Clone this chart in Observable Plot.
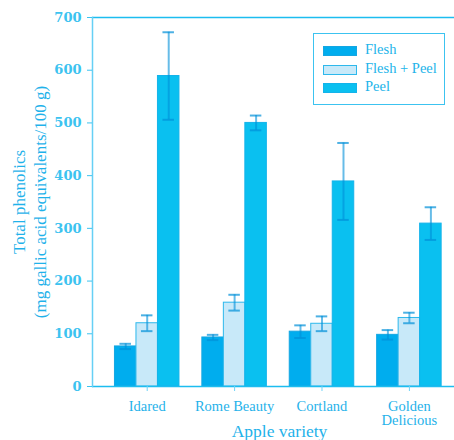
<!DOCTYPE html>
<html><head><meta charset="utf-8">
<script src="https://cdn.jsdelivr.net/npm/d3@7"></script>
<script src="https://cdn.jsdelivr.net/npm/@observablehq/plot@0.6"></script>
<style>
body{margin:0;background:#fff;}
#wrap{position:relative;width:454px;height:440px;overflow:hidden;}
#legend{position:absolute;left:313px;top:33px;width:132px;height:72px;border:1.5px solid #3CC3F0;box-sizing:border-box;font-family:"Liberation Serif",serif;font-size:14.5px;color:#22B4EA;}
.row{position:absolute;left:9px;height:10px;}
.sw{position:absolute;left:0;top:0;width:34px;height:10px;box-sizing:border-box;border:1px solid #1FA9E4;}
.lb{position:absolute;left:42px;top:-6px;white-space:nowrap;line-height:18px;}
</style></head><body><div id="wrap"></div>
<script>
const varieties = ["Idared", "Rome Beauty", "Cortland", "Golden\nDelicious"];
const types = ["Flesh", "Flesh + Peel", "Peel"];
const flesh = [76, 93, 104, 98];
const fleshErr = [5, 5, 12, 9];
const fleshPeel = [120, 159, 119, 130];
const fleshPeelErr = [15, 15, 14, 10];
const peel = [589, 500, 389, 309];
const peelErr = [83, 14, 73, 31];
const yTicks = [0, 100, 200, 300, 400, 500, 600, 700];
const colors = ["#00ADEE", "#C8E9F9", "#0AC0F0"];
const strokes = ["#14A6E2", "#2DB8EC", "#14B3EA"];

const series = [flesh, fleshPeel, peel];
const errs = [fleshErr, fleshPeelErr, peelErr];
const BW = 21.5;
const txt = "#1FB2EA";

const marks = [];
types.forEach((t, j) => {
  const rows = varieties.map((v, i) => ({variety: v, type: t, value: series[j][i], err: errs[j][i]}));
  const dx = (j - 1) * BW;
  marks.push(Plot.barY(rows, {x: "variety", y: "value", fill: colors[j], stroke: strokes[j], strokeWidth: 1, dx}));
  marks.push(Plot.ruleX(rows, {x: "variety", y1: d => d.value - d.err, y2: d => d.value + d.err, dx, stroke: "#0090D8", strokeOpacity: 0.6, strokeWidth: 2}));
  marks.push(Plot.tickY(rows, {x: "variety", y: d => d.value - d.err, dx, insetLeft: 5, insetRight: 5, stroke: "#0090D8", strokeOpacity: 0.7, strokeWidth: 2}));
  marks.push(Plot.tickY(rows, {x: "variety", y: d => d.value + d.err, dx, insetLeft: 5, insetRight: 5, stroke: "#0090D8", strokeOpacity: 0.7, strokeWidth: 2}));
});

const chart = Plot.plot({
  width: 454,
  height: 440,
  marginLeft: 92,
  marginRight: 0,
  marginTop: 17,
  marginBottom: 54,
  style: {fontFamily: "'Liberation Serif', serif", color: txt, background: "#fff"},
  x: {type: "band", domain: varieties, range: [92, 463.6], paddingInner: 0.754, paddingOuter: 0.503, round: false},
  y: {domain: [0, 700]},
  marks: [
    ...marks,
    Plot.ruleY([0, 700], {stroke: "#1CBDF0", strokeWidth: 1.5}),
    Plot.frame({anchor: "left", stroke: "#66D0F5", strokeWidth: 1.5}),
    Plot.axisY({ticks: yTicks, tickSize: 5, tickPadding: 6, label: null, fontSize: 13, fontWeight: "bold", fontFamily: "'DejaVu Serif', serif", color: "#3CC3F0", fill: "#3CC3F0"}),
    Plot.axisX({tickSize: 5, tickPadding: 9, label: null, fontSize: 14.5, lineHeight: 1.0, color: "#6FD3F7", fill: txt}),
    Plot.text(["Apple variety"], {frameAnchor: "bottom", dy: 50, dx: 6, fontSize: 17.5, lineAnchor: "bottom", fill: txt}),
    Plot.text(["Total phenolics\n(mg gallic acid equivalents/100 g)"], {frameAnchor: "left", rotate: -90, dx: -63.5, fontSize: 17, lineHeight: 1.24, lineAnchor: "middle", textAnchor: "middle", fill: txt})
  ]
});
const wrap = document.getElementById("wrap");
wrap.appendChild(chart);

const legend = document.createElement("div");
legend.id = "legend";
types.forEach((t, j) => {
  const row = document.createElement("div");
  row.className = "row";
  row.style.top = (12 + j * 18.7) + "px";
  const sw = document.createElement("div");
  sw.className = "sw";
  sw.style.background = colors[j];
  sw.style.borderColor = strokes[j];
  const lb = document.createElement("div");
  lb.className = "lb";
  lb.textContent = t;
  row.appendChild(sw); row.appendChild(lb);
  legend.appendChild(row);
});
wrap.appendChild(legend);
</script></body></html>
